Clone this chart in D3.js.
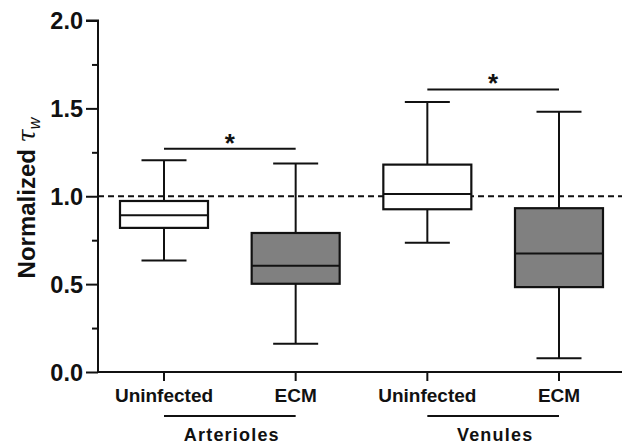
<!DOCTYPE html>
<meta charset="utf-8">
<style>
body { margin: 0; background: #fff; }
text { font-family: "Liberation Sans", Arial, sans-serif; font-weight: bold; fill: #111; }
.axis path, .axis line { stroke: #111; stroke-width: 2px; }
</style>
<svg width="622" height="446"></svg>
<script src="https://d3js.org/d3.v7.min.js"></script>
<script>

// box plot summaries
var groups = ["Arterioles", "Venules"];
var conditions = ["Uninfected", "ECM"];
var keys = ["A-Uninfected", "A-ECM", "V-Uninfected", "V-ECM"];
var mins    = [0.635, 0.161, 0.735, 0.078];
var q1s     = [0.820, 0.502, 0.926, 0.483];
var medians = [0.892, 0.604, 1.013, 0.674];
var q3s     = [0.973, 0.791, 1.180, 0.932];
var maxs    = [1.205, 1.186, 1.536, 1.481];
var fills   = ["#fff", "#808080", "#fff", "#808080"];
var yTicks = [0, 0.5, 1.0, 1.5, 2.0];
var sigBars = [{from: 0, to: 1, y: 1.27}, {from: 2, to: 3, y: 1.608}];

var svg = d3.select("svg");

var y = d3.scaleLinear().domain([0, 2]).range([372, 20.5]);
var x = d3.scalePoint().domain(keys).range([164, 559]);

var boxW = 88, capW = 45;

// y axis
var yAxis = svg.append("g")
    .attr("class", "axis")
    .attr("transform", "translate(98,0)")
    .call(d3.axisLeft(y).tickValues(d3.range(0, 2.01, 0.25)).tickSize(12).tickFormat(function(d) {
      return yTicks.indexOf(d) >= 0 ? d3.format(".1f")(d) : "";
    }));
yAxis.select(".domain").attr("d", "M-12,20.5H0V372");
yAxis.selectAll(".tick line").attr("x2", function(d) { return yTicks.indexOf(d) >= 0 ? -12 : -6; });
yAxis.selectAll(".tick text")
    .attr("x", -15)
    .attr("dy", "0.36em")
    .style("font-size", "23.5px")
    .style("font-family", "Liberation Sans, Arial, sans-serif")
    .style("font-weight", "bold")
    .attr("fill", "#111");

// x axis
svg.append("line")
    .attr("x1", 98).attr("x2", 622)
    .attr("y1", 372).attr("y2", 372)
    .attr("stroke", "#111").attr("stroke-width", 2);

svg.selectAll(".xtick")
    .data(keys)
    .enter().append("line")
    .attr("x1", function(d) { return x(d); })
    .attr("x2", function(d) { return x(d); })
    .attr("y1", 372).attr("y2", 381)
    .attr("stroke", "#111").attr("stroke-width", 2);

// reference line at 1.0
svg.append("line")
    .attr("x1", 98).attr("x2", 622)
    .attr("y1", y(1)).attr("y2", y(1))
    .attr("stroke", "#111").attr("stroke-width", 2)
    .attr("stroke-dasharray", "6,4");

// boxes
var box = svg.selectAll(".box")
    .data(keys)
    .enter().append("g")
    .attr("class", "box");

box.append("line")
    .attr("x1", function(d) { return x(d); })
    .attr("x2", function(d) { return x(d); })
    .attr("y1", function(d, i) { return y(maxs[i]); })
    .attr("y2", function(d, i) { return y(mins[i]); })
    .attr("stroke", "#111").attr("stroke-width", 2);

box.selectAll(".cap")
    .data(function(d, i) { return [{k: d, v: maxs[i]}, {k: d, v: mins[i]}]; })
    .enter().append("line")
    .attr("x1", function(d) { return x(d.k) - capW / 2; })
    .attr("x2", function(d) { return x(d.k) + capW / 2; })
    .attr("y1", function(d) { return y(d.v); })
    .attr("y2", function(d) { return y(d.v); })
    .attr("stroke", "#111").attr("stroke-width", 2);

box.append("rect")
    .attr("x", function(d) { return x(d) - boxW / 2; })
    .attr("width", boxW)
    .attr("y", function(d, i) { return y(q3s[i]); })
    .attr("height", function(d, i) { return y(q1s[i]) - y(q3s[i]); })
    .attr("fill", function(d, i) { return fills[i]; })
    .attr("stroke", "#111").attr("stroke-width", 2.2);

box.append("line")
    .attr("x1", function(d) { return x(d) - boxW / 2; })
    .attr("x2", function(d) { return x(d) + boxW / 2; })
    .attr("y1", function(d, i) { return y(medians[i]); })
    .attr("y2", function(d, i) { return y(medians[i]); })
    .attr("stroke", "#111").attr("stroke-width", 2);

// significance bars
var sig = svg.selectAll(".sig")
    .data(sigBars)
    .enter().append("g");

sig.append("line")
    .attr("x1", function(d) { return x(keys[d.from]); })
    .attr("x2", function(d) { return x(keys[d.to]); })
    .attr("y1", function(d) { return y(d.y); })
    .attr("y2", function(d) { return y(d.y); })
    .attr("stroke", "#111").attr("stroke-width", 2);

sig.append("text")
    .attr("x", function(d) { return (x(keys[d.from]) + x(keys[d.to])) / 2; })
    .attr("y", function(d) { return y(d.y) + 3; })
    .attr("text-anchor", "middle")
    .style("font-size", "26px")
    .text("*");

// category labels
svg.selectAll(".cond")
    .data(keys)
    .enter().append("text")
    .attr("x", function(d) { return x(d); })
    .attr("y", 402)
    .attr("text-anchor", "middle")
    .style("font-size", "19px")
    .text(function(d, i) { return conditions[i % 2]; });

// group underlines and labels
groups.forEach(function(g, gi) {
  var x1 = x(keys[gi * 2]), x2 = x(keys[gi * 2 + 1]);
  svg.append("line")
      .attr("x1", x1).attr("x2", x2)
      .attr("y1", 416).attr("y2", 416)
      .attr("stroke", "#111").attr("stroke-width", 2);
  svg.append("text")
      .attr("x", (x1 + x2) / 2 + 2)
      .attr("y", 441)
      .attr("text-anchor", "middle")
      .style("font-size", "18px")
      .style("letter-spacing", "1.2px")
      .text(g);
});

// y title
var title = svg.append("text")
    .attr("transform", "translate(35,198) rotate(-90)")
    .attr("text-anchor", "middle")
    .style("font-size", "24px");
title.append("tspan").text("Normalized ");
title.append("tspan").style("font-style", "italic").style("font-weight", "normal").style("font-family", "DejaVu Serif, serif").text("τ");
title.append("tspan").style("font-style", "italic").style("font-weight", "normal").style("font-size", "16px").attr("dy", 5).text("w");

</script>
